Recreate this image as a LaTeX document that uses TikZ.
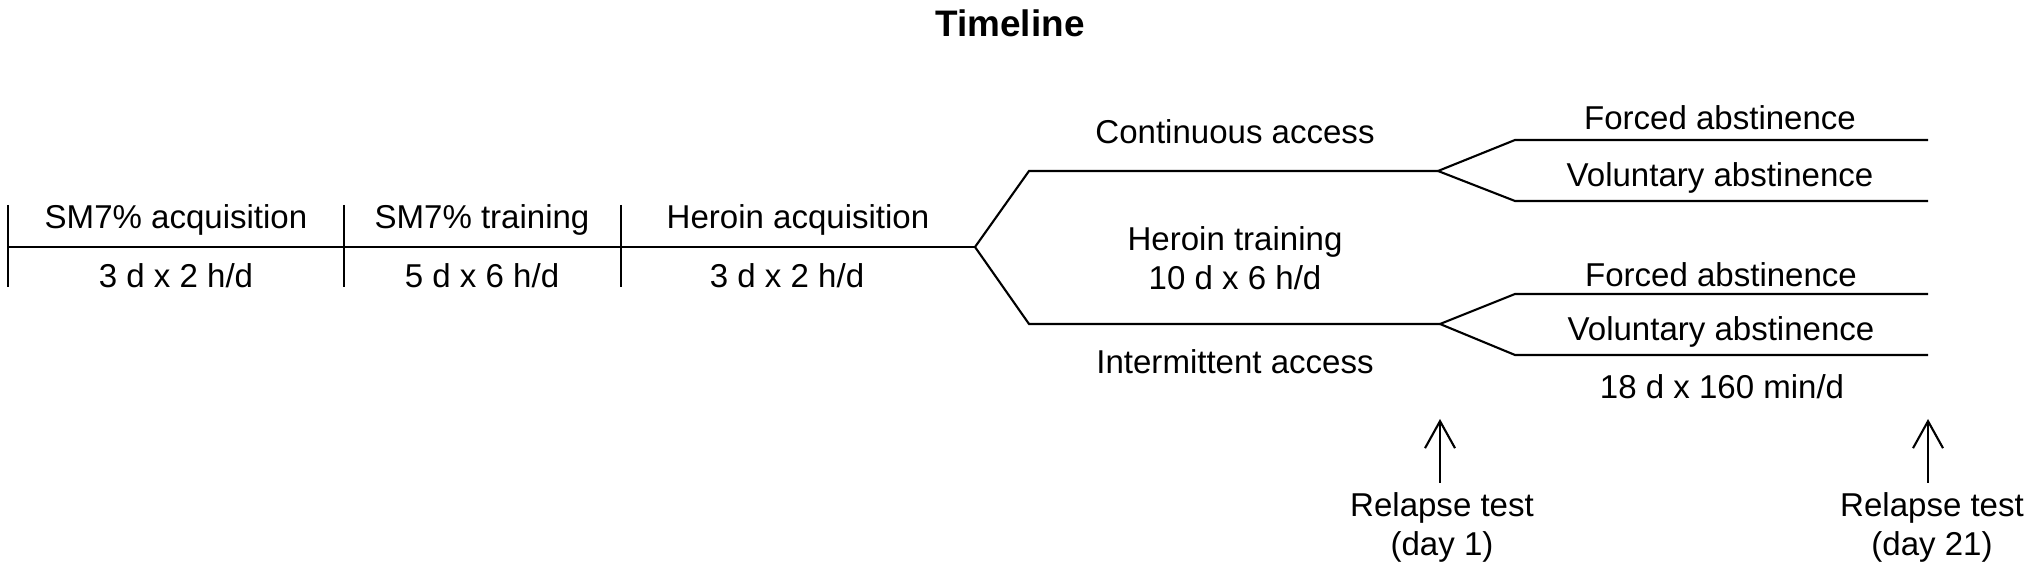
\documentclass[tikz,border=0pt]{standalone}
\usepackage{fontspec}
\setmainfont{Liberation Sans}
\usetikzlibrary{arrows.meta, positioning}
\tikzset{
  phaselabel/.style={font=\fontsize{9.4}{11.1}\selectfont, align=center, inner sep=1pt},
  tline/.style={line width=0.6pt},
  testarr/.style={-{Straight Barb[length=2.7mm, width=3mm]}, line width=0.6pt}
}

\begin{document}
\begin{tikzpicture}[
  titlelabel/.style={font=\bfseries\fontsize{10.5}{12}\selectfont}
]
\useasboundingbox (0,0) rectangle (20.30,5.72);

% Title
\node[titlelabel] (title) at (10.10,5.49) {Timeline};

% Baseline and phase boundaries
\coordinate (t0) at (0.08,3.25);
\coordinate (t1) at (3.44,3.25);
\coordinate (t2) at (6.21,3.25);
\coordinate (split) at (9.75,3.25);
\coordinate (tickup) at (0,3.67);
\coordinate (tickdown) at (0,2.85);
\draw[tline] (t0) -- (split);
\foreach \t in {t0,t1,t2}
  \draw[tline] (\t |- tickup) -- (\t |- tickdown);

% Phase labels
\node[phaselabel] (sma) at (1.76,3.52) {SM7\% acquisition};
\node[phaselabel] (smad) at (1.76,2.96) {3 d x 2 h/d};
\node[phaselabel] (smt) at (4.82,3.52) {SM7\% training};
\node[phaselabel] (smtd) at (4.82,2.96) {5 d x 6 h/d};
\node[phaselabel] (hea) at (7.98,3.52) {Heroin acquisition};
\node[phaselabel] (head) at (7.87,2.96) {3 d x 2 h/d};

% Access branches
\coordinate (contA) at (10.29,4.01);
\coordinate (contB) at (14.38,4.01);
\coordinate (intA) at (10.29,2.48);
\coordinate (intB) at (14.40,2.48);
\draw[tline] (split) -- (contA) -- (contB);
\draw[tline] (split) -- (intA) -- (intB);
\node[phaselabel] (cont) at (12.35,4.40) {Continuous access};
\node[phaselabel] (het) at (12.35,3.135) {Heroin training\\10 d x 6 h/d};
\node[phaselabel] (int) at (12.35,2.10) {Intermittent access};

% Abstinence forks
\coordinate (cfA) at (15.15,4.32);
\coordinate (cfB) at (19.28,4.32);
\coordinate (cvA) at (15.15,3.71);
\coordinate (cvB) at (19.28,3.71);
\coordinate (ifA) at (15.15,2.78);
\coordinate (ifB) at (19.28,2.78);
\coordinate (ivA) at (15.15,2.17);
\coordinate (ivB) at (19.28,2.17);
\draw[tline] (contB) -- (cfA) -- (cfB);
\draw[tline] (contB) -- (cvA) -- (cvB);
\draw[tline] (intB) -- (ifA) -- (ifB);
\draw[tline] (intB) -- (ivA) -- (ivB);
\node[phaselabel] (cforced) at (17.20,4.54) {Forced abstinence};
\node[phaselabel] (cvol) at (17.20,3.94) {Voluntary abstinence};
\node[phaselabel] (iforced) at (17.21,2.97) {Forced abstinence};
\node[phaselabel] (ivol) at (17.21,2.40) {Voluntary abstinence};
\node[phaselabel] (absd) at (17.22,1.85) {18 d x 160 min/d};

% Relapse tests
\coordinate (rt1tip) at (14.40,1.53);
\coordinate (rt1tail) at (14.40,0.89);
\coordinate (rt2tip) at (19.28,1.53);
\coordinate (rt2tail) at (19.28,0.89);
\draw[testarr] (rt1tail) -- (rt1tip);
\draw[testarr] (rt2tail) -- (rt2tip);
\node[phaselabel] (rt1) at (14.42,0.445) {Relapse test\\(day 1)};
\node[phaselabel] (rt2) at (19.32,0.445) {Relapse test\\(day 21)};

\end{tikzpicture}
\end{document}
